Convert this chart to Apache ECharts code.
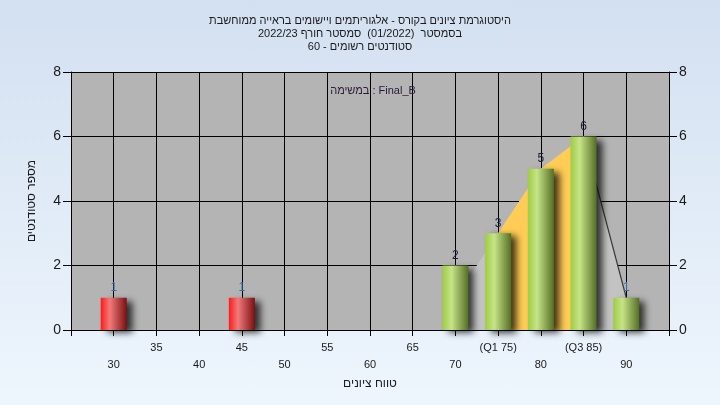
<!DOCTYPE html>
<html>
<head>
<meta charset="utf-8">
<script src="https://cdn.jsdelivr.net/npm/echarts@6/dist/echarts.min.js"></script>
<style>
html,body{margin:0;padding:0;}
#c{width:720px;height:405px;background:linear-gradient(#d3e0f1,#eef6fd);}
</style>
</head>
<body>
<div id="c"></div>
<script>
// ---- data ----
var titleLines = [
  'היסטוגרמת ציונים בקורס - אלגוריתמים ויישומים בראייה ממוחשבת',
  'בסמסטר  (01/2022)  סמסטר חורף 2022/23',
  'סטודנטים רשומים - 60'
];
var legendText = 'במשימה : Final_B';
var xName = 'טווח ציונים';
var yName = 'מספר סטודנטים';
var failGrades = [30, 45];
var failCounts = [1, 1];
var passGrades = [70, 75, 80, 85, 90];
var passCounts = [2, 3, 5, 6, 1];
var quartileGrades = [75, 80, 85];
var quartileCounts = [3, 5, 6];
var polyGrades = [70, 75, 80, 85, 90];
var polyCounts = [1, 3, 5, 6, 1];
var tailGrades = [85, 90];
var tailCounts = [6, 1];
var tickLabels = {35:'35', 45:'45', 55:'55', 65:'65', 75:'(Q1 75)', 85:'(Q3 85)',
                  30:'30', 40:'40', 50:'50', 60:'60', 70:'70', 80:'80', 90:'90'};

function pairs(xs, ys){ return xs.map(function(x,i){ return [x, ys[i]]; }); }

var FONT = '"Liberation Sans", Arial, sans-serif';
var chart = echarts.init(document.getElementById('c'));

function grad(c0, c1, c2){
  return new echarts.graphic.LinearGradient(0,0,1,0,[
    {offset:0, color:c0},{offset:0.35, color:c1},{offset:1, color:c2}]);
}
function lbl(v){ return v === 1 ? '#3b6ea5' : '#1c1c3c'; }

var option = {
  backgroundColor: 'transparent',
  animation: false,
  title: [{
    text: titleLines.join('\n'),
    left: 'center', top: 9,
    textStyle: {fontFamily: FONT, fontSize: 11, fontWeight: 'normal', color: '#1a1a1a', lineHeight: 13}
  },{
    text: legendText,
    left: 368, top: 80, textAlign: 'center',
    textStyle: {fontFamily: FONT, fontSize: 11, fontWeight: 'normal', color: '#2a1a3a'}
  }],
  grid: {left: 71, right: 51, top: 72, bottom: 75, show: true, backgroundColor: '#b4b4b4', borderWidth: 0},
  xAxis: {
    type: 'value', min: 25, max: 95, interval: 5,
    name: xName, nameLocation: 'middle', nameGap: 41,
    nameTextStyle: {fontFamily: FONT, fontSize: 12, color: '#1a1a1a'},
    axisLine: {show: true, onZero: false, lineStyle: {color: '#000', width: 1}},
    axisTick: {show: true, length: 6, lineStyle: {color: '#000'}},
    splitLine: {show: true, lineStyle: {color: '#000', width: 1}},
    axisLabel: {
      fontFamily: FONT, fontSize: 11, color: '#1a1a1a', margin: 9, lineHeight: 17,
      formatter: function(v){
        var t = tickLabels[v];
        if (t === undefined) return '';
        return (v % 10 === 0) ? '\n' + t : t;
      }
    }
  },
  yAxis: [{
    type: 'value', min: 0, max: 8, interval: 2, position: 'left',
    name: yName, nameLocation: 'middle', nameGap: 33, nameRotate: 90,
    nameTextStyle: {fontFamily: FONT, fontSize: 12, color: '#1a1a1a'},
    axisLine: {show: true, lineStyle: {color: '#000'}},
    axisTick: {show: true, length: 8, lineStyle: {color: '#000'}},
    splitLine: {show: true, lineStyle: {color: '#000', width: 1}},
    axisLabel: {fontFamily: FONT, fontSize: 14, color: '#1a1a1a', margin: 10}
  },{
    type: 'value', min: 0, max: 8, interval: 2, position: 'right',
    axisLine: {show: true, lineStyle: {color: '#000'}},
    axisTick: {show: true, length: 8, lineStyle: {color: '#000'}},
    splitLine: {show: false},
    axisLabel: {fontFamily: FONT, fontSize: 14, color: '#1a1a1a', margin: 10}
  }],
  series: [{
    type: 'line', data: pairs(polyGrades, polyCounts), symbol: 'none', z: 1,
    lineStyle: {width: 0}, areaStyle: {color: '#c3c3c3', opacity: 1}, silent: true
  },{
    type: 'line', data: pairs(quartileGrades, quartileCounts), symbol: 'none', z: 2,
    lineStyle: {width: 0}, areaStyle: {color: '#ffcc55', opacity: 1}, silent: true
  },{
    type: 'line', data: pairs(tailGrades, tailCounts), symbol: 'none', z: 2,
    lineStyle: {width: 1.2, color: '#3a3a3a'}, silent: true
  },{
    type: 'bar', data: pairs(failGrades, failCounts), barWidth: 26, barGap: '-100%', z: 5,
    itemStyle: {color: grad('#ff1a1a', '#f27a7a', '#7a1010'),
      shadowColor: 'rgba(0,0,0,0.75)', shadowBlur: 7, shadowOffsetX: 6, shadowOffsetY: 3},
    label: {show: true, position: 'top', distance: 4, fontFamily: FONT, fontSize: 12,
      color: lbl(1), formatter: function(p){ return String(p.value[1]); }}
  },{
    type: 'bar', barWidth: 26, barGap: '-100%', z: 5,
    data: pairs(passGrades, passCounts).map(function(d){
      return {value: d, label: {color: lbl(d[1])}};
    }),
    itemStyle: {color: grad('#9fcc45', '#c6e487', '#546f26'),
      shadowColor: 'rgba(0,0,0,0.75)', shadowBlur: 7, shadowOffsetX: 6, shadowOffsetY: 3},
    label: {show: true, position: 'top', distance: 4, fontFamily: FONT, fontSize: 12,
      formatter: function(p){ return String(p.value[1]); }}
  }]
};
chart.setOption(option);
</script>
</body>
</html>
